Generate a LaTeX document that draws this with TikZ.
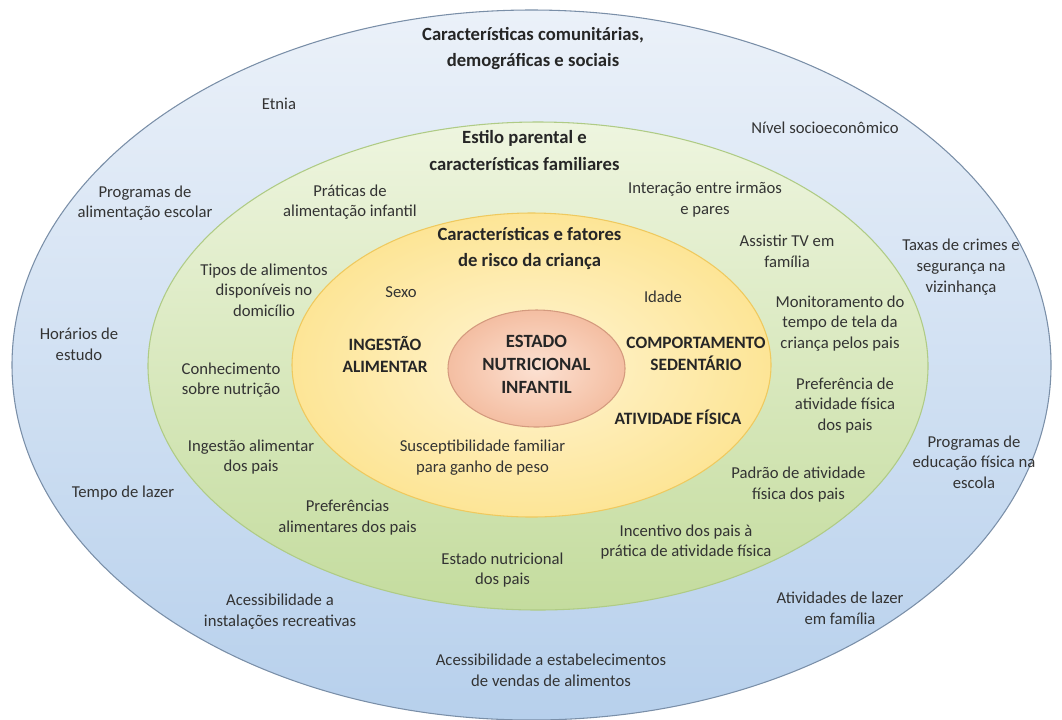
\documentclass[tikz,border=0pt]{standalone}
\usepackage{fontspec}
\setmainfont{Carlito}
\usepackage{tikz}

\definecolor{bluetop}{HTML}{EBF1F9}
\definecolor{bluebot}{HTML}{B7D0EC}
\definecolor{blueline}{HTML}{7A8FA8}
\definecolor{greentop}{HTML}{EEF5DF}
\definecolor{greenbot}{HTML}{C4DC9E}
\definecolor{greenline}{HTML}{AFCB85}
\definecolor{yellowin}{HTML}{FFF4D2}
\definecolor{yellowout}{HTML}{FDE596}
\definecolor{yellowline}{HTML}{EFC95E}
\definecolor{redin}{HTML}{FCE1D2}
\definecolor{redout}{HTML}{F4BEA2}
\definecolor{redline}{HTML}{D49A7E}
\definecolor{txtgray}{HTML}{333333}

\begin{document}
\begin{tikzpicture}[x=0.75pt, y=-0.75pt,
  factor/.style={align=center, text=txtgray, font=\fontsize{12.5}{15.5}\selectfont},
  ringtitle/.style={align=center, text=black!85, font=\fontsize{14}{20}\selectfont\bfseries},
  bigfactor/.style={align=center, text=black!85, font=\fontsize{13}{16.5}\selectfont\bfseries}]
\useasboundingbox (0,0) rectangle (1062,719);

\shade [top color=bluetop, bottom color=bluebot] (531.5,365) ellipse [x radius=519.5, y radius=355];
\draw [blueline, line width=0.8pt] (531.5,365) ellipse [x radius=519.5, y radius=355];
\shade [top color=greentop, bottom color=greenbot] (538,366) ellipse [x radius=390, y radius=244];
\draw [greenline, line width=0.8pt] (538,366) ellipse [x radius=390, y radius=244];
\shade [inner color=yellowin, outer color=yellowout] (531.5,365) ellipse [x radius=239.5, y radius=152];
\draw [yellowline, line width=0.8pt] (531.5,365) ellipse [x radius=239.5, y radius=152];
\shade [inner color=redin, outer color=redout] (536.5,368.5) ellipse [x radius=88.5, y radius=58.5];
\draw [redline, line width=0.8pt] (536.5,368.5) ellipse [x radius=88.5, y radius=58.5];

\node [ringtitle] (comtitle) at (533,48.5) {Características comunitárias,\\demográficas e sociais};
\node [factor] (etnia) at (279,104) {Etnia};
\node [factor] (nivel) at (825,128) {Nível socioeconômico};
\node [factor] (progalim) at (145,203) {Programas de\\alimentação escolar};
\node [factor] (taxas) at (961,267) {Taxas de crimes e\\segurança na\\vizinhança};
\node [factor] (horarios) at (79,344.5) {Horários de\\estudo};
\node [factor] (progeduc) at (974,462) {Programas de\\educação física na\\escola};
\node [factor] (lazer) at (123,493) {Tempo de lazer};
\node [factor] (acessrec) at (280,611.5) {Acessibilidade a\\instalações recreativas};
\node [factor] (ativlazer) at (840,608) {Atividades de lazer\\em família};
\node [factor] (acessalim) at (551,670.5) {Acessibilidade a estabelecimentos\\de vendas de alimentos};

\node [ringtitle] (famtitle) at (524.5,150.5) {Estilo parental e\\características familiares};
\node [factor] (praticas) at (350,202) {Práticas de\\alimentação infantil};
\node [factor] (interacao) at (705,199.5) {Interação entre irmãos\\e pares};
\node [factor] (tv) at (787,251.5) {Assistir TV em\\família};
\node [factor] (tipos) at (264,290) {Tipos de alimentos\\disponíveis no\\domicílio};
\node [factor] (monit) at (840,323.5) {Monitoramento do\\tempo de tela da\\criança pelos pais};
\node [factor] (conhec) at (231,380) {Conhecimento\\sobre nutrição};
\node [factor] (prefativ) at (845,405.5) {Preferência de\\atividade física\\dos pais};
\node [factor] (ingpais) at (251,457) {Ingestão alimentar\\dos pais};
\node [factor] (padrao) at (798.5,484.5) {Padrão de atividade\\física dos pais};
\node [factor] (prefalim) at (347.5,517.5) {Preferências\\alimentares dos pais};
\node [factor] (incentivo) at (686,542) {Incentivo dos pais à\\prática de atividade física};
\node [factor] (estpais) at (502.5,570) {Estado nutricional\\dos pais};

\node [ringtitle] (crititle) at (529.5,248.5) {Características e fatores\\de risco da criança};
\node [factor] (sexo) at (401,292) {Sexo};
\node [factor] (idade) at (663,297) {Idade};
\node [bigfactor] (ingestao) at (385,354) {INGESTÃO\\ALIMENTAR};
\node [bigfactor] (comport) at (696,354) {COMPORTAMENTO\\SEDENTÁRIO};
\node [bigfactor] (ativ) at (678,417) {ATIVIDADE FÍSICA};
\node [factor] (suscept) at (482.5,457.5) {Susceptibilidade familiar\\para ganho de peso};

\node [bigfactor, font=\fontsize{14}{17}\selectfont\bfseries] (estado) at (536.5,364.5) {ESTADO\\NUTRICIONAL\\INFANTIL};
\end{tikzpicture}
\end{document}
